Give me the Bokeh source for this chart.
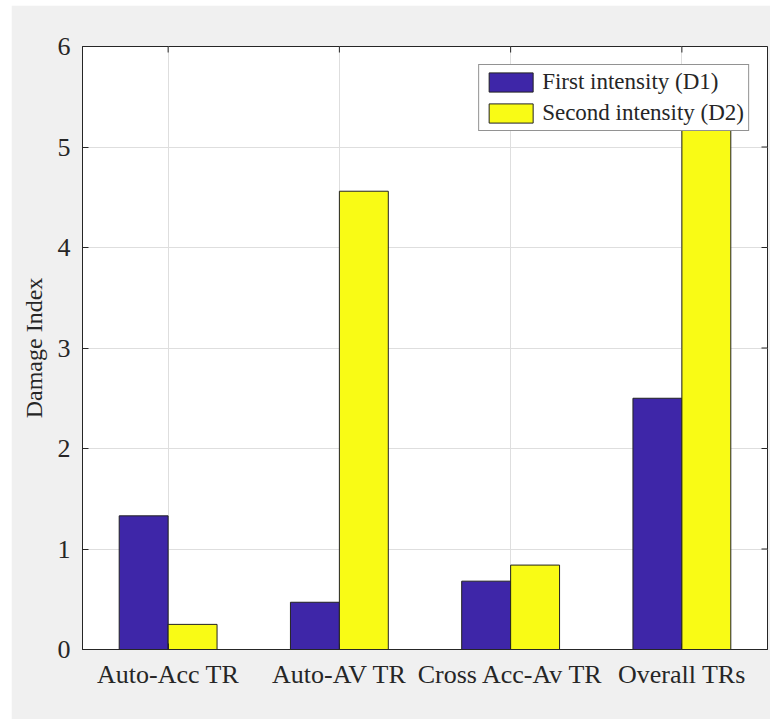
import math
from bokeh.plotting import figure
from bokeh.models import (ColumnDataSource, FactorRange, Range1d, FixedTicker,
                          Legend, LegendItem)
from bokeh.transform import dodge
from bokeh.embed import file_html
from bokeh.resources import INLINE

# Damage index per transmissibility-ratio group, for the two damage intensities
categories = ["Auto-Acc TR", "Auto-AV TR", "Cross Acc-Av TR", "Overall TRs"]
first_intensity = [1.33, 0.47, 0.68, 2.50]
second_intensity = [0.25, 4.56, 0.84, 5.65]
y_ticks = [0, 1, 2, 3, 4, 5, 6]

series_labels = ["First intensity (D1)", "Second intensity (D2)"]
series_colors = ["#3e26a8", "#f9fb15"]

FONT = "Liberation Serif"
AX = "#262626"

source = ColumnDataSource(dict(cat=categories, d1=first_intensity, d2=second_intensity))

p = figure(
    x_range=FactorRange(*categories, range_padding=0),
    y_range=Range1d(y_ticks[0], y_ticks[-1]),
    width=759, height=714,
    output_backend="svg", toolbar_location=None,
    min_border_left=71, min_border_right=3, min_border_top=41, min_border_bottom=70,
    border_fill_color="#f0f0f0", background_fill_color="white",
    outline_line_color=AX, outline_line_width=1,
)
p.margin = (5, 0, 0, 11)

bar_w = 0.2857
r1 = p.vbar(x=dodge("cat", -bar_w / 2, range=p.x_range), top="d1", width=bar_w,
            source=source, fill_color=series_colors[0], line_color="#222222", line_width=1)
r2 = p.vbar(x=dodge("cat", bar_w / 2, range=p.x_range), top="d2", width=bar_w,
            source=source, fill_color=series_colors[1], line_color="#222222", line_width=1)

# grid
p.xgrid.grid_line_color = "#dedede"
p.ygrid.grid_line_color = "#dedede"
p.ygrid.ticker = FixedTicker(ticks=y_ticks)

# left axis
ya = p.yaxis[0]
ya.ticker = FixedTicker(ticks=y_ticks)
ya.axis_label = "Damage Index"
ya.axis_label_text_font = FONT
ya.axis_label_text_font_size = "24px"
ya.axis_label_text_font_style = "normal"
ya.axis_label_text_color = AX
ya.axis_label_standoff = 8
ya.major_label_text_font = FONT
ya.major_label_text_font_size = "26px"
ya.major_label_text_color = AX
ya.major_label_standoff = 12
ya.major_tick_in = 6
ya.major_tick_out = 0
ya.minor_tick_in = 0
ya.minor_tick_out = 0
ya.axis_line_color = AX
ya.major_tick_line_color = AX

# bottom axis
xa = p.xaxis[0]
xa.major_label_text_font = FONT
xa.major_label_text_font_size = "26px"
xa.major_label_text_color = AX
xa.major_label_standoff = 10
xa.major_tick_in = 6
xa.major_tick_out = 0
xa.axis_line_color = AX
xa.major_tick_line_color = AX

# inward tick marks on the right and top edges of the box (clipped to the frame)
p.scatter(x=[len(categories)] * len(y_ticks), y=y_ticks, marker="dash", size=12,
          line_color=AX, line_width=1)
p.scatter(x=categories, y=[y_ticks[-1]] * len(categories), marker="dash",
          angle=math.pi / 2, size=12, line_color=AX, line_width=1)

legend = Legend(
    items=[LegendItem(label=series_labels[0], renderers=[r1]),
           LegendItem(label=series_labels[1], renderers=[r2])],
    location="top_right", margin=18, padding=4, spacing=5,
    label_standoff=4, glyph_width=55, glyph_height=24, label_height=26,
    label_text_font=FONT, label_text_font_size="23px", label_text_color=AX,
    border_line_color=AX, border_line_width=1,
    background_fill_color="white", background_fill_alpha=1.0,
)
p.add_layout(legend)

open("out.html", "w").write(file_html(p, INLINE))
